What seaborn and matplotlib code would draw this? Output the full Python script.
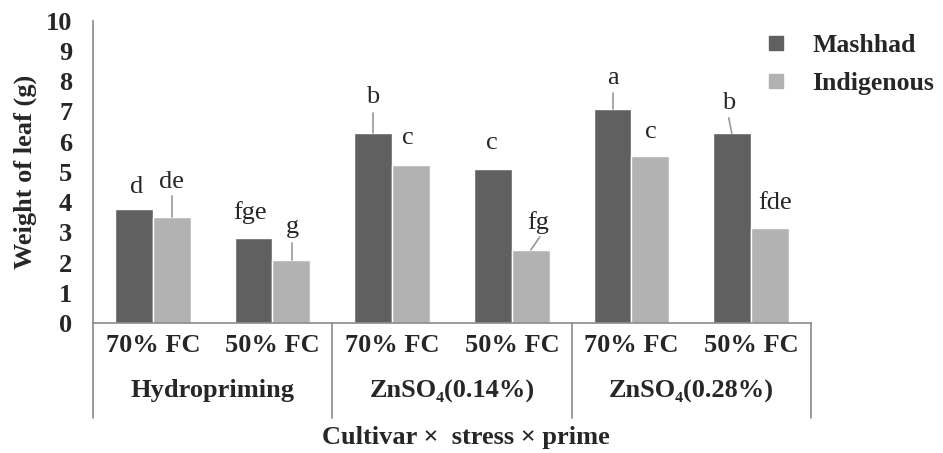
import pandas as pd
import matplotlib
matplotlib.use('Agg')
import matplotlib.pyplot as plt
from matplotlib.lines import Line2D
import seaborn as sns

# data
groups = ['Hydropriming', 'ZnSO\u2084(0.14%)', 'ZnSO\u2084(0.28%)']
stress = ['70% FC', '50% FC']
cultivars = ['Mashhad', 'Indigenous']
mashhad = [3.77, 2.81, 6.30, 5.10, 7.07, 6.28]
indigenous = [3.50, 2.09, 5.23, 2.42, 5.54, 3.13]
letters_mashhad = ['d', 'fge', 'b', 'c', 'a', 'b']
letters_indigenous = ['de', 'g', 'c', 'fg', 'c', 'fde']

cats = [f'{g} {s}' for g in groups for s in stress]
df = pd.DataFrame({
    'cat': cats * 2,
    'cultivar': ['Mashhad'] * 6 + ['Indigenous'] * 6,
    'weight': mashhad + indigenous,
})

sns.set_style('white')
plt.rcParams['font.family'] = ['Liberation Serif', 'DejaVu Serif']

dark, light, axc = '#606060', '#b2b2b2', '#8a8a8a'
fs = 19

fig, ax = plt.subplots(figsize=(9.43, 4.53), dpi=100)
fig.subplots_adjust(left=0.0986, right=0.860, bottom=0.287, top=0.954)

sns.barplot(data=df, x='cat', y='weight', hue='cultivar', order=cats,
            hue_order=cultivars, palette=[dark, light], width=0.634,
            saturation=1, ax=ax, legend=False)

ax.set_ylim(0, 10)
ax.set_xlim(-0.5, 5.5)
ax.set_yticks(range(0, 11))
ax.tick_params(axis='y', labelsize=fs, length=5, width=1, color=axc, pad=10)
for t in ax.get_yticklabels():
    t.set_fontweight('bold')
ax.set_xticks([])
ax.set_xlabel('')
ax.set_ylabel('Weight of leaf (g)', fontsize=fs, fontweight='bold', labelpad=6)
for side in ['top', 'right']:
    ax.spines[side].set_visible(False)
for side in ['left', 'bottom']:
    ax.spines[side].set_color(axc)
    ax.spines[side].set_linewidth(1.2)

# letter labels: (dx from category centre, y of text), leader start/end or None
lab_m = [(-0.134, 4.50, None), (-0.19, 3.64, None), (-0.16, 7.48, (-0.158, 6.30, -0.158, 6.95)),
         (-0.167, 5.96, None), (-0.156, 8.11, (-0.158, 7.07, -0.158, 7.60)),
         (-0.187, 7.28, (-0.162, 6.28, -0.187, 6.79))]
lab_i = [(0.159, 4.67, (0.159, 3.50, 0.159, 4.20)), (0.17, 3.18, (0.159, 2.09, 0.159, 2.65)),
         (0.13, 6.13, None), (0.217, 3.34, (0.159, 2.42, 0.234, 2.85)),
         (0.16, 6.32, None), (0.198, 3.97, None)]
for i in range(6):
    for txt, (dx, y, lead) in [(letters_mashhad[i], lab_m[i]), (letters_indigenous[i], lab_i[i])]:
        ax.text(i + dx, y, txt, ha='center', va='center', fontsize=fs)
        if lead:
            ax.plot([i + lead[0], i + lead[2]], [lead[1], lead[3]], color='#999999', lw=1.2)

# hierarchical x axis
for i, c in enumerate(cats):
    ax.text(i, -0.73, stress[i % 2], ha='center', va='center', fontsize=fs,
            fontweight='bold', clip_on=False)
for j, g in enumerate(groups):
    ax.text(2 * j + 0.5, -2.25, g, ha='center', va='center', fontsize=fs,
            fontweight='bold', clip_on=False)
for xv in [-0.5, 1.5, 3.5, 5.5]:
    ax.plot([xv, xv], [0, -3.15], color=axc, lw=1.2, clip_on=False)
ax.text(2.62, -3.8, 'Cultivar \u00d7  stress \u00d7 prime', ha='center', va='center',
        fontsize=fs, fontweight='bold', clip_on=False)

handles = [Line2D([], [], marker='s', ls='', color=dark, markersize=10),
           Line2D([], [], marker='s', ls='', color=light, markersize=10)]
fig.legend(handles, cultivars, loc='upper left', bbox_to_anchor=(0.785, 0.977),
           frameon=False, prop={'weight': 'bold', 'size': 18.5},
           handlelength=1.0, handletextpad=0.9, labelspacing=0.6, borderpad=0.4)

fig.savefig('out.png', dpi=100)
